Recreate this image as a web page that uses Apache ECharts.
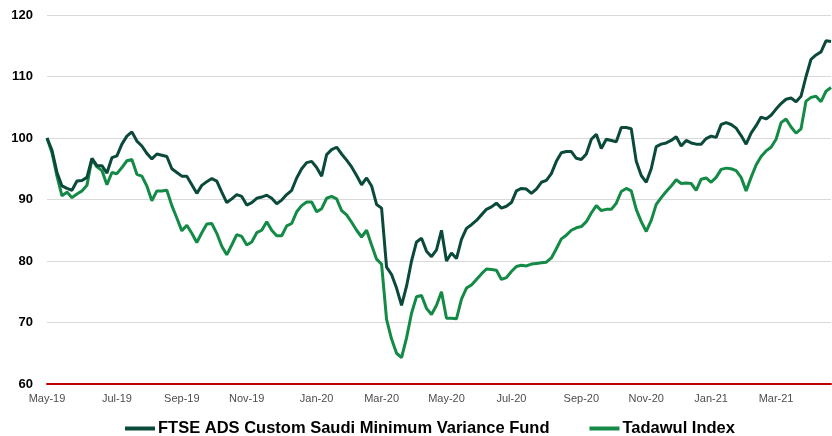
<!DOCTYPE html>
<html>
<head>
<meta charset="utf-8">
<script src="https://cdn.jsdelivr.net/npm/echarts@6/dist/echarts.min.js"></script>
<style>
  html, body { margin: 0; padding: 0; background: #fff; }
  #chart { width: 832px; height: 436px; }
</style>
</head>
<body>
<div id="chart"></div>
<script>
// index of the two lines, rebased to 100 at start (May-19)
const ftse = [
  100, 98.0, 94.4, 92.2, 91.8, 91.5, 93.0, 93.1, 93.6, 96.7,
  95.5, 95.5, 94.3, 96.8, 97.1, 99.0, 100.3, 101.0, 99.5, 98.7,
  97.5, 96.6, 97.4, 97.2, 97.0, 95.0, 94.4, 93.8, 93.8, 92.4,
  91.0, 92.3, 92.9, 93.4, 93.0, 91.2, 89.5, 90.1, 90.8, 90.5,
  89.1, 89.5, 90.2, 90.4, 90.7, 90.2, 89.3, 89.9, 90.8, 91.5,
  93.5, 95.0, 96.0, 96.2, 95.2, 93.8, 97.3, 98.1, 98.5, 97.4,
  96.4, 95.3, 93.9, 92.4, 93.5, 92.2, 89.2, 88.6, 79.0, 77.8,
  75.6, 72.8, 75.9, 80.0, 83.1, 83.7, 81.6, 80.7, 81.8, 85.0,
  80.0, 81.3, 80.4, 83.5, 85.3, 85.9, 86.6, 87.5, 88.4, 88.8,
  89.4, 88.6, 88.9, 89.5, 91.4, 91.8, 91.7, 91.0, 91.7, 92.8,
  93.1, 94.2, 96.2, 97.6, 97.8, 97.8, 96.7, 96.5, 97.4, 99.8,
  100.6, 98.3, 99.8, 99.6, 99.4, 101.7, 101.7, 101.5, 96.2, 93.9,
  92.8, 95.0, 98.6, 99.0, 99.2, 99.6, 100.2, 98.7, 99.6, 99.2,
  99.0, 99.0, 99.9, 100.3, 100.1, 102.2, 102.5, 102.2, 101.6, 100.4,
  99.0, 100.8, 102.0, 103.4, 103.1, 103.7, 104.7, 105.6, 106.3, 106.5,
  105.9, 106.8, 110.0, 112.8, 113.5, 114.0, 115.8, 115.7
];
const tadawul = [
  100, 97.6, 93.8, 90.6, 91.2, 90.3, 90.9, 91.4, 92.3, 96.6,
  95.3, 94.7, 92.4, 94.4, 94.2, 95.2, 96.3, 96.5, 94.1, 93.8,
  92.2, 89.8, 91.4, 91.4, 91.5, 89.0, 87.0, 84.9, 85.8, 84.5,
  83.0, 84.6, 86.0, 86.1, 84.5, 82.4, 81.0, 82.6, 84.3, 84.0,
  82.6, 83.1, 84.6, 85.0, 86.4, 85.0, 84.1, 84.1, 85.7, 86.1,
  88.0, 89.0, 89.6, 89.6, 88.0, 88.5, 90.2, 90.5, 90.1, 88.2,
  87.5, 86.3, 85.0, 83.9, 85.0, 82.6, 80.3, 79.5, 70.5, 67.3,
  65.0, 64.3, 67.5, 71.5, 74.2, 74.4, 72.3, 71.3, 72.8, 75.0,
  70.7, 70.7, 70.6, 73.8, 75.6, 76.1, 77.0, 77.9, 78.7, 78.6,
  78.5, 77.0, 77.3, 78.3, 79.1, 79.3, 79.2, 79.5, 79.6, 79.7,
  79.8, 80.5, 82.0, 83.6, 84.2, 85.0, 85.4, 85.6, 86.4, 87.8,
  89.0, 88.2, 88.4, 88.4, 89.4, 91.3, 91.8, 91.4, 88.4, 86.4,
  84.8, 86.6, 89.2, 90.3, 91.3, 92.2, 93.2, 92.6, 92.7, 92.6,
  91.5, 93.3, 93.5, 92.8, 93.6, 94.9, 95.1, 95.0, 94.7, 93.6,
  91.4, 93.6, 95.6, 97.0, 97.9, 98.5, 99.8, 102.5, 103.1, 101.8,
  100.8, 101.5, 106.0, 106.6, 106.8, 105.9, 107.6, 108.2
];
const seriesNames = ['FTSE ADS Custom Saudi Minimum Variance Fund', 'Tadawul Index'];
const monthNames = ['Jan', 'Feb', 'Mar', 'Apr', 'May', 'Jun', 'Jul', 'Aug', 'Sep', 'Oct', 'Nov', 'Dec'];

// observation dates, one every 4.6 days from 1 May 2019
const DAY = 86400000;
const start = Date.UTC(2019, 4, 1);
const dates = ftse.map((_, i) => new Date(start + Math.round(i * 4.6) * DAY));
const categories = dates.map(d => d.toISOString().slice(0, 10));

// label the first point of every odd month (Jan, Mar, May ...)
function isTick(index) {
  const m = dates[index].getUTCMonth();
  if (m % 2 !== 0) return false;
  return index === 0 || dates[index - 1].getUTCMonth() !== m;
}

const chart = echarts.init(document.getElementById('chart'));

const option = {
  animation: false,
  color: ['#0b4a3b', '#138a45'],
  grid: { left: 47, right: 1, top: 15, bottom: 52 },
  legend: {
    left: 125,
    top: 420,
    padding: 0,
    icon: 'rect',
    itemWidth: 30,
    itemHeight: 4,
    itemGap: 40,
    textStyle: {
      fontFamily: '"Liberation Sans", Arial, sans-serif',
      fontWeight: 'bold',
      fontSize: 16.5,
      color: '#000',
      padding: [0, 0, 0, -2]
    },
    data: seriesNames
  },
  xAxis: {
    type: 'category',
    boundaryGap: false,
    data: categories,
    axisLine: { lineStyle: { color: '#c00000', width: 2 } },
    axisTick: { show: false },
    axisLabel: {
      interval: isTick,
      margin: 9,
      fontFamily: '"Liberation Sans", Arial, sans-serif',
      fontSize: 11,
      color: '#4d4d4d',
      formatter: function (value) {
        const d = new Date(value + 'T00:00:00Z');
        return monthNames[d.getUTCMonth()] + '-' + String(d.getUTCFullYear()).slice(2);
      }
    },
    splitLine: { show: false }
  },
  yAxis: {
    type: 'value',
    min: 60,
    max: 120,
    interval: 10,
    axisLine: { show: false },
    axisTick: { show: false },
    axisLabel: {
      margin: 14,
      fontFamily: '"Liberation Sans", Arial, sans-serif',
      fontWeight: 'bold',
      fontSize: 13,
      color: '#000'
    },
    splitLine: { lineStyle: { color: '#d9d9d9', width: 1 } }
  },
  series: [
    {
      name: seriesNames[0],
      type: 'line',
      data: ftse,
      showSymbol: false,
      lineStyle: { width: 3 },
      z: 3
    },
    {
      name: seriesNames[1],
      type: 'line',
      data: tadawul,
      showSymbol: false,
      lineStyle: { width: 3 },
      z: 2
    }
  ]
};

chart.setOption(option);
</script>
</body>
</html>
